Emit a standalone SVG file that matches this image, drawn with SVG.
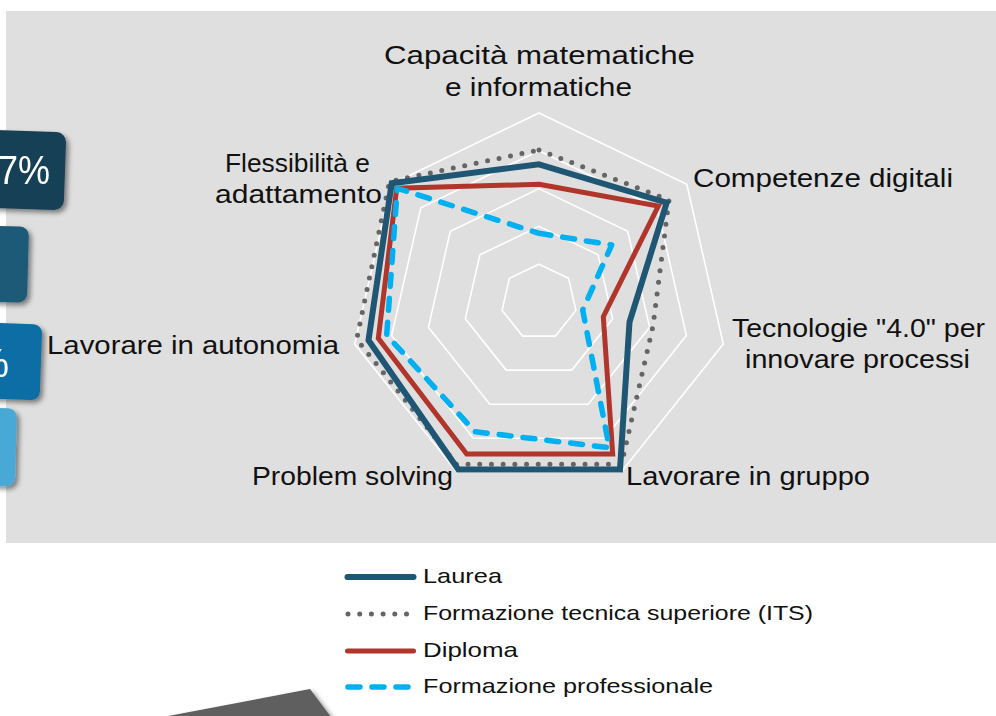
<svg xmlns="http://www.w3.org/2000/svg" width="996" height="716" viewBox="0 0 996 716">
<defs>
<filter id="sh" x="-20%" y="-20%" width="150%" height="150%">
<feDropShadow dx="3" dy="3" stdDeviation="2.5" flood-color="#000" flood-opacity="0.45"/>
</filter>
<style>
.lbl{font-family:"Liberation Sans",Arial,sans-serif;font-size:25px;fill:#111;text-anchor:middle}
.leg{font-family:"Liberation Sans",Arial,sans-serif;font-size:21px;fill:#111}
.grid{fill:none;stroke:#fff;stroke-width:1.6}
.laurea{fill:none;stroke:#1e5673;stroke-width:6;stroke-linejoin:miter}
.its{fill:none;stroke:#656565;stroke-width:5;stroke-dasharray:0 11.7;stroke-linecap:round}
.dipl{fill:none;stroke:#b0352b;stroke-width:5;stroke-linejoin:miter}
.prof{fill:none;stroke:#00b0f0;stroke-width:5.5;stroke-dasharray:12 12;stroke-linecap:round;stroke-linejoin:round}
.pct{font-family:"Liberation Sans",Arial,sans-serif;fill:#fff;font-size:40px}
</style>
</defs>
<rect width="996" height="716" fill="#fff"/>
<rect x="6" y="11" width="990" height="532" fill="#dfdfdf"/>

<g id="boxes">
<g id="box1" filter="url(#sh)">
<rect x="-40" y="131" width="105" height="78" rx="10" fill="#163f56" transform="rotate(2 25 170)"/>
<text class="pct" x="50" y="184" text-anchor="end" textLength="52" lengthAdjust="spacingAndGlyphs">7%</text>
</g>
<g id="box2" filter="url(#sh)">
<rect x="-60" y="226" width="88" height="76" rx="9" fill="#1e5a78" transform="rotate(1.5 0 264)"/>
</g>
<g id="box3" filter="url(#sh)">
<rect x="-50" y="323" width="91" height="76" rx="9" fill="#0c6ea6" transform="rotate(2 0 361)"/>
<text class="pct" x="9" y="377" text-anchor="end" font-size="36">%</text>
</g>
<g id="box4" filter="url(#sh)">
<rect x="-60" y="408" width="76" height="78" rx="9" fill="#4aa9d6" transform="rotate(1.5 0 447)"/>
</g>
</g>

<g id="grid">
<polygon class="grid" points="539,113 686.8,184.2 723.3,344.1 621,472.3 457,472.3 354.7,344.1 391.2,184.2"/>
<polygon class="grid" points="539,150.8 657.2,207.7 686.4,335.6 604.6,438.2 473.4,438.2 391.6,335.6 420.8,207.7"/>
<polygon class="grid" points="539,188.6 627.7,231.3 649.6,327.2 588.2,404.2 489.8,404.2 428.4,327.2 450.3,231.3"/>
<polygon class="grid" points="539,226.4 598.1,254.9 612.7,318.8 571.8,370.1 506.2,370.1 465.3,318.8 479.9,254.9"/>
<polygon class="grid" points="539,264.2 568.6,278.4 575.9,310.4 555.4,336.1 522.6,336.1 502.1,310.4 509.4,278.4"/>
</g>

<g id="series">
<polygon id="s-its" class="its" points="539,150 669,200 653,326 621.5,464.3 456.5,464.3 356.7,339.3 389.5,181.5"/>
<polygon id="s-laurea" class="laurea" points="539,164.3 666.7,202.7 629.5,322 620,469.5 458.3,469.5 368.5,340.3 391.7,183.3"/>
<polygon id="s-diploma" class="dipl" points="539,184.3 658.3,206 603.3,316.7 612.7,454 466.7,454 378.3,338.3 396.7,188.3"/>
<polygon id="s-prof" class="prof" points="539,233.3 611.7,245 582.7,310 609.3,447.7 475,431.7 386.7,335 397.3,188.3"/>
</g>

<g id="labels">
<g id="ax0"><text class="lbl" x="539.5" y="64" textLength="311" lengthAdjust="spacingAndGlyphs">Capacità matematiche</text>
<text class="lbl" x="538.5" y="96" textLength="187" lengthAdjust="spacingAndGlyphs">e informatiche</text></g>
<g id="ax1"><text class="lbl" x="823" y="187" textLength="260" lengthAdjust="spacingAndGlyphs">Competenze digitali</text></g>
<g id="ax2"><text class="lbl" x="858.5" y="337" textLength="253" lengthAdjust="spacingAndGlyphs">Tecnologie "4.0" per</text>
<text class="lbl" x="857.5" y="368" textLength="225" lengthAdjust="spacingAndGlyphs">innovare processi</text></g>
<g id="ax3"><text class="lbl" x="748" y="485" textLength="244" lengthAdjust="spacingAndGlyphs">Lavorare in gruppo</text></g>
<g id="ax4"><text class="lbl" x="352.5" y="485" textLength="201" lengthAdjust="spacingAndGlyphs">Problem solving</text></g>
<g id="ax5"><text class="lbl" x="193" y="354" textLength="292" lengthAdjust="spacingAndGlyphs">Lavorare in autonomia</text></g>
<g id="ax6"><text class="lbl" x="297.5" y="172" textLength="145" lengthAdjust="spacingAndGlyphs">Flessibilità e</text>
<text class="lbl" x="298.5" y="203" textLength="167" lengthAdjust="spacingAndGlyphs">adattamento</text></g>
</g>

<g id="legend">
<g id="leg-laurea"><path class="laurea" stroke-width="5" stroke-linecap="round" d="M347.5 577 H413.5"/>
<text class="leg" x="423" y="583" textLength="79" lengthAdjust="spacingAndGlyphs">Laurea</text></g>
<g id="leg-its"><path class="its" d="M348 614 H409"/>
<text class="leg" x="423" y="620" textLength="390" lengthAdjust="spacingAndGlyphs">Formazione tecnica superiore (ITS)</text></g>
<g id="leg-diploma"><path class="dipl" stroke-linecap="round" d="M347.5 651 H413.5"/>
<text class="leg" x="423" y="657" textLength="95" lengthAdjust="spacingAndGlyphs">Diploma</text></g>
<g id="leg-prof"><path class="prof" d="M348 687 H409"/>
<text class="leg" x="423" y="693" textLength="290" lengthAdjust="spacingAndGlyphs">Formazione professionale</text></g>
</g>

<g id="shape-bottom" filter="url(#sh)">
<polygon points="163,717 310,689 331,717" fill="#5e5e5e"/>
</g>
</svg>
